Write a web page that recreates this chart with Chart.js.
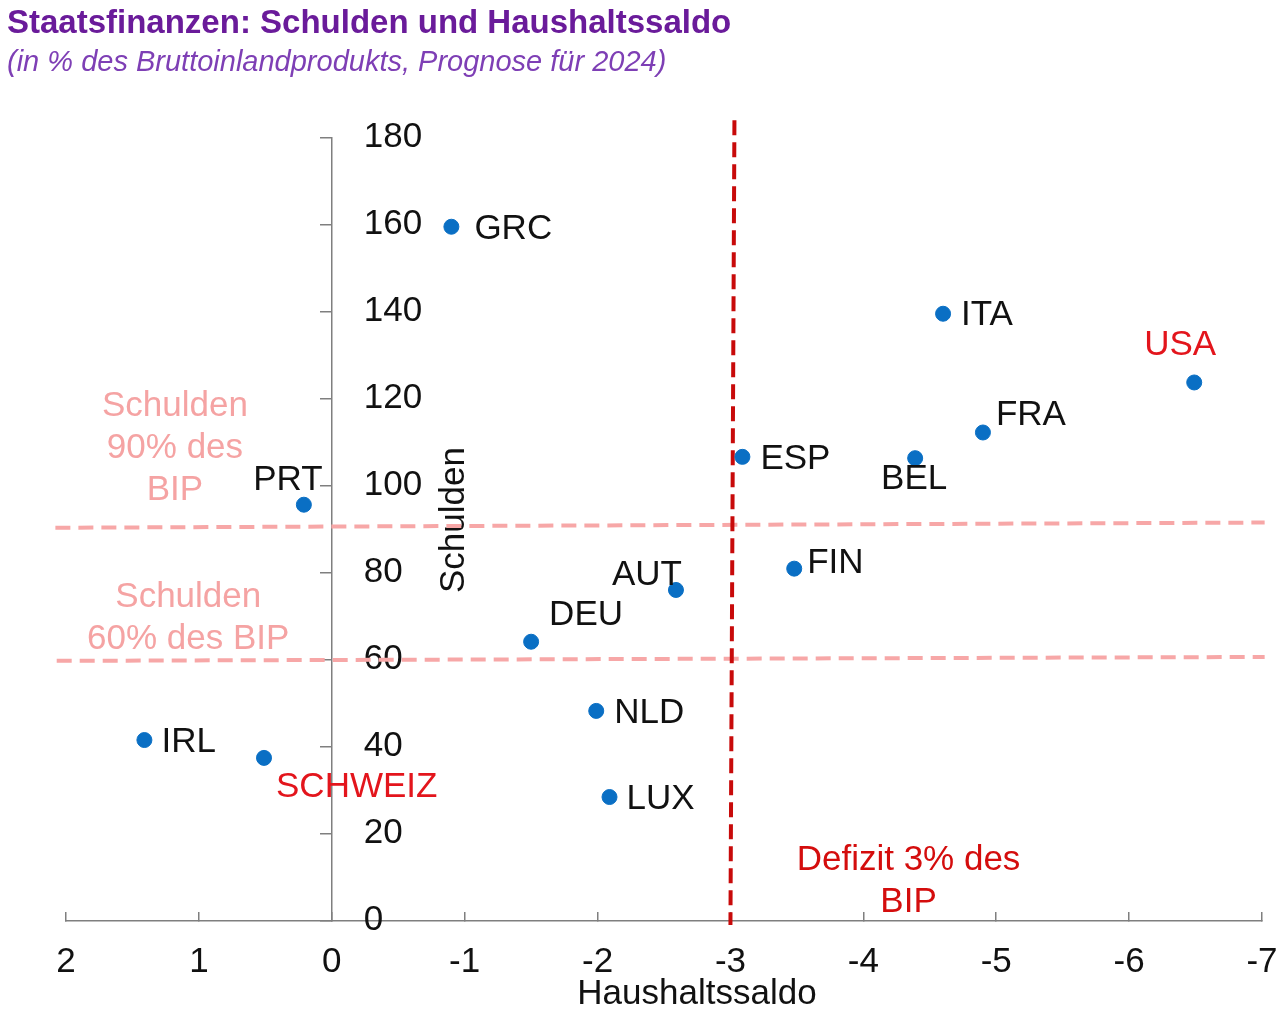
<!DOCTYPE html>
<html><head><meta charset="utf-8">
<script src="https://cdn.jsdelivr.net/npm/chart.js@4.4.1/dist/chart.umd.min.js"></script>
<style>html,body{margin:0;padding:0;background:#fff;}canvas{display:block;}</style>
</head><body>
<canvas id="c" width="1280" height="1032"></canvas>
<script>
// ---- data ----
const countries = ['GRC','ITA','USA','FRA','ESP','BEL','PRT','FIN','AUT','DEU','NLD','IRL','SCHWEIZ','LUX'];
const haushaltssaldo = [-0.9,-4.6,-6.49,-4.9,-3.09,-4.39,0.21,-3.48,-2.59,-1.5,-1.99,1.41,0.51,-2.09];
const schulden = [159.6,139.6,123.8,112.3,106.7,106.4,95.7,81.0,76.1,64.2,48.3,41.6,37.5,28.5];
const xTicks = [2,1,0,-1,-2,-3,-4,-5,-6,-7];
const yTicks = [0,20,40,60,80,100,120,140,160,180];
const line90X = [2.08,-7.02], line90Y = [90.4,91.6];
const line60X = [2.07,-7.02], line60Y = [59.8,60.7];
const deficitX = [-3.03,-3.0], deficitY = [184.1,-0.9];
const title = 'Staatsfinanzen: Schulden und Haushaltssaldo';
const subtitle = '(in % des Bruttoinlandprodukts, Prognose für 2024)';
const xTitle = 'Haushaltssaldo';
const yTitle = 'Schulden';
const note90 = ['Schulden','90% des','BIP'];
const note60 = ['Schulden','60% des BIP'];
const noteDef = ['Defizit 3% des','BIP'];

// ---- styling / placement ----
const FONT = '"Liberation Sans", Arial, sans-serif';
const labelStyle = [ // [dx, dy, align, color]
  [23,3,'left','#111'],[18,2,'left','#111'],[-14,-37,'center','#e3151c'],[13,-17,'left','#111'],
  [18,2,'left','#111'],[-1,21,'center','#111'],[-16,-24,'center','#111'],[13,-5,'left','#111'],
  [6,-15,'right','#111'],[18,-26,'left','#111'],[18,2,'left','#111'],[17,2,'left','#111'],
  [12,29,'left','#e3151c'],[17,2,'left','#111']
];
const notePos = [
  {lines: note90, x: 1.18, y: 118.4, color: '#f5a3a3'},
  {lines: note60, x: 1.08, y: 74.4, color: '#f5a3a3'},
  {lines: noteDef, x: -4.34, y: 14.0, color: '#d40d0d'}
];
const pair = (xs, ys) => xs.map((v,i) => ({x: v, y: ys[i]}));

const overlay = {
  id: 'overlay',
  beforeDatasetsDraw(chart) {
    const {ctx, scales: {x, y}} = chart;
    ctx.save();
    ctx.font = '35px ' + FONT;
    ctx.fillStyle = '#111';
    ctx.textAlign = 'left';
    ctx.textBaseline = 'middle';
    const ax = x.getPixelForValue(0);
    y.ticks.forEach(t => ctx.fillText(String(t.value), ax + 32, y.getPixelForValue(t.value) - 1));
    // y title
    ctx.save();
    ctx.translate(ax + 123, 520);
    ctx.rotate(-Math.PI / 2);
    ctx.textAlign = 'center';
    ctx.fillText(yTitle, 0, 0);
    ctx.restore();
    // x title
    ctx.textAlign = 'center';
    ctx.fillText(xTitle, 697, 994);
    // notes
    notePos.forEach(n => {
      ctx.fillStyle = n.color;
      const px = x.getPixelForValue(n.x), py = y.getPixelForValue(n.y);
      n.lines.forEach((l, i) => ctx.fillText(l, px, py + i * 42));
    });
    ctx.restore();
  },
  afterDatasetsDraw(chart) {
    const {ctx} = chart;
    const meta = chart.getDatasetMeta(0);
    ctx.save();
    ctx.font = '35px ' + FONT;
    ctx.textBaseline = 'middle';
    meta.data.forEach((pt, i) => {
      const [dx, dy, al, col] = labelStyle[i];
      ctx.fillStyle = col;
      ctx.textAlign = al;
      ctx.fillText(countries[i], pt.x + dx, pt.y + dy);
    });
    // titles
    ctx.textAlign = 'left';
    ctx.textBaseline = 'alphabetic';
    ctx.fillStyle = '#6a1b9a';
    ctx.font = 'bold 33px ' + FONT;
    ctx.fillText(title, 7, 33);
    ctx.fillStyle = '#7e3fb5';
    ctx.font = 'italic 29px ' + FONT;
    ctx.fillText(subtitle, 7, 71);
    ctx.restore();
  }
};

new Chart(document.getElementById('c'), {
  type: 'scatter',
  data: {
    datasets: [
      {data: pair(haushaltssaldo, schulden), backgroundColor: '#0a6fc4', borderColor: '#0a6fc4', pointRadius: 7.5, pointHoverRadius: 7.5, order: 0},
      {data: pair(line90X, line90Y), showLine: true, pointRadius: 0, borderColor: '#f7a7a7', borderWidth: 4, borderDash: [15, 8], clip: false, order: 2},
      {data: pair(line60X, line60Y), showLine: true, pointRadius: 0, borderColor: '#f7a7a7', borderWidth: 4, borderDash: [15, 8], clip: false, order: 2},
      {data: pair(deficitX, deficitY), showLine: true, pointRadius: 0, borderColor: '#c80a0a', borderWidth: 4, borderDash: [15, 7], clip: false, order: 1}
    ]
  },
  options: {
    responsive: false,
    animation: false,
    layout: {padding: {left: 66, right: 18, top: 138, bottom: 0}},
    plugins: {legend: {display: false}, tooltip: {enabled: false}, title: {display: false}},
    scales: {
      x: {
        type: 'linear', min: -7, max: 2, reverse: true, position: 'bottom',
        afterBuildTicks: s => { s.ticks = xTicks.map(v => ({value: v})); },
        afterFit: s => { s.height = 111; s.paddingLeft = 0; s.paddingRight = 0; },
        ticks: {autoSkip: false, maxRotation: 0, padding: 29, color: '#111', font: {size: 35, family: FONT}},
        grid: {drawOnChartArea: false, drawTicks: true, tickLength: -9, color: '#7f7f7f', lineWidth: 1.5},
        border: {display: true, color: '#7f7f7f', width: 1.5}
      },
      y: {
        type: 'linear', min: 0, max: 180, position: {x: 0},
        afterBuildTicks: s => { s.ticks = yTicks.map(v => ({value: v})); },
        afterFit: s => { s.width = 0; },
        ticks: {display: false},
        grid: {drawOnChartArea: false, drawTicks: true, tickLength: 11, color: '#7f7f7f', lineWidth: 1.5},
        border: {display: true, color: '#7f7f7f', width: 1.5}
      }
    }
  },
  plugins: [overlay]
});
</script>
</body></html>
